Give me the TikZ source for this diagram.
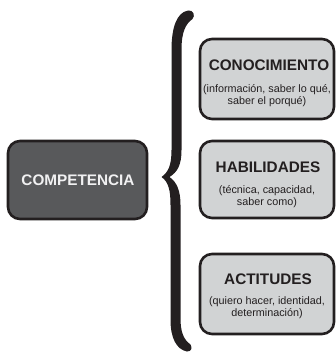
\documentclass[tikz,border=0pt]{standalone}
\usepackage{fontspec}
\setmainfont{Liberation Sans}
\definecolor{edge}{HTML}{231F20}
\definecolor{darkfill}{HTML}{58595B}
\definecolor{lightfill}{HTML}{D1D3D4}
\definecolor{whitetext}{HTML}{F1F1F2}
\begin{document}
\begin{tikzpicture}[x=1pt,y=-1pt,
  leftbox/.style={draw=edge, line width=2.6pt, fill=darkfill, rounded corners=12pt, inner sep=0pt},
  rightbox/.style={draw=edge, line width=2.6pt, fill=lightfill, rounded corners=12pt, inner sep=0pt, minimum width=134pt},
  boxtitle/.style={font=\fontsize{15.3}{18}\selectfont\bfseries, text=edge, anchor=base, inner sep=0pt},
  boxsub/.style={font=\fontsize{10.8}{12}\selectfont, text=edge, align=center, inner sep=0pt}]
\useasboundingbox (0,0) rectangle (336,353);
% left box
\node[leftbox, minimum width=139pt, minimum height=78pt] (comp) at (77.5,180) {};
\node[boxtitle, text=whitetext] (compt) at (78,185.5) {COMPETENCIA};
% right boxes
\node[rightbox, minimum height=80pt] (con) at (267,79) {};
\node[rightbox, minimum height=77pt] (hab) at (267,179.5) {};
\node[rightbox, minimum height=80pt] (act) at (267,294) {};
\node[boxtitle] (cont) at (269,70.5) {CONOCIMIENTO};
\node[boxsub] (cons) at (267,96) {(información, saber lo qué,\\saber el porqué)};
\node[boxtitle] (habt) at (268,172.5) {HABILIDADES};
\node[boxsub] (habs) at (267,197) {(técnica, capacidad,\\saber como)};
\node[boxtitle] (actt) at (268,284) {ACTITUDES};
\node[boxsub] (acts) at (267,308) {(quiero hacer, identidad,\\determinación)};
% brace
\fill[edge] (188,10.5) .. controls (176.5,12.5) and (171.5,28) .. (171.5,50)
  -- (171.5,150) .. controls (171.5,165) and (168.5,172) .. (161.5,177)
  .. controls (168.5,182) and (170.5,190) .. (170.5,205)
  -- (170.5,320) .. controls (170.5,338) and (176.5,349.5) .. (187,351.5)
  .. controls (191.5,351.5) and (192.5,348) .. (190.5,344.5)
  .. controls (183.5,339.5) and (180.5,332) .. (180.5,318)
  -- (180.5,205) .. controls (180.5,190) and (176.5,182) .. (169.5,177)
  .. controls (177.5,172) and (181.5,165) .. (181.5,150)
  -- (181.5,50) .. controls (181.5,32) and (185.5,24) .. (192.5,19)
  .. controls (195.5,16) and (193.5,9.5) .. (188,10.5) -- cycle;
\end{tikzpicture}
\end{document}
